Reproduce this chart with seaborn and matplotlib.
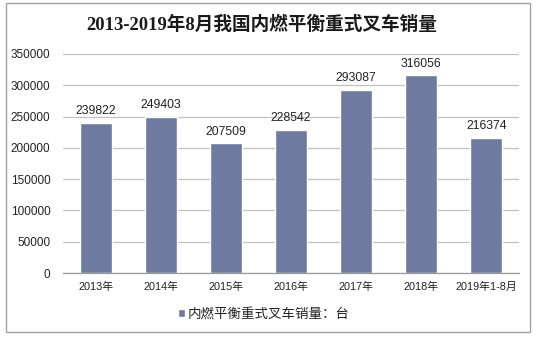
import matplotlib
matplotlib.use("Agg")
import matplotlib.pyplot as plt
import seaborn as sns
import pandas as pd
from matplotlib.patches import Rectangle

categories = ["2013年", "2014年", "2015年", "2016年", "2017年", "2018年", "2019年1-8月"]
values = [239822, 249403, 207509, 228542, 293087, 316056, 216374]
series_name = "内燃平衡重式叉车销量：台"
title = "2013-2019年8月我国内燃平衡重式叉车销量"
yticks = [0, 50000, 100000, 150000, 200000, 250000, 300000, 350000]

sns.set_theme(style="white")
plt.rcParams['font.family'] = ['Liberation Sans', 'Noto Sans CJK SC', 'DejaVu Sans']

df = pd.DataFrame({"cat": categories, "val": values, "series": series_name})

W, H = 538, 337
fig = plt.figure(figsize=(W/100, H/100), dpi=100)
ax = fig.add_axes([63/W, (H-273)/H, (519-63)/W, (273-54)/H])

bar_color = "#6e7aa0"
sns.barplot(data=df, x="cat", y="val", hue="series", palette=[bar_color],
            width=0.49, ax=ax, saturation=1, legend=True)

ax.set_ylim(0, 350000)
ax.set_yticks(yticks)
ax.set_yticklabels([str(v) for v in yticks], fontsize=8.5, color="#222222")
ax.yaxis.grid(True, color="#c0c0c0", linewidth=0.9)
ax.set_axisbelow(True)
ax.set_xlabel("")
ax.set_ylabel("")
for s in ["left", "right", "top"]:
    ax.spines[s].set_visible(False)
ax.spines["bottom"].set_color("#999999")
ax.spines["bottom"].set_linewidth(0.9)
ax.tick_params(axis="y", length=0, pad=9)
ax.tick_params(axis="x", length=0, pad=6, labelsize=7.8, labelcolor="#222222")
ax.set_xlim(-0.5, len(categories) - 0.5)
ax.set_xticks([i - 0.5 for i in range(len(categories) + 1)], minor=True)
ax.tick_params(axis="x", which="minor", length=4, color="#999999", width=0.9, direction="out")

for cont in ax.containers:
    ax.bar_label(cont, labels=[str(v) for v in values], padding=4, fontsize=8.8, color="#222222")

leg = ax.legend(loc="center", bbox_to_anchor=(0.44, -0.19), frameon=False,
                fontsize=9.7, handlelength=0.5, handleheight=0.5, handletextpad=0.2)
for t in leg.get_texts():
    t.set_color("#222222")

fig.text(262/W, (H-25)/H, title, ha="center", va="center", fontsize=13.4, fontweight="bold",
         family=['Liberation Serif', 'Noto Sans CJK SC'], color="#1a1a1a")

fig.patches.append(Rectangle((6/W, (H-332)/H), 524/W, 329/H, transform=fig.transFigure,
                             fill=False, edgecolor="#a0a0a0", linewidth=1.0))

fig.savefig("out.png", dpi=100)
